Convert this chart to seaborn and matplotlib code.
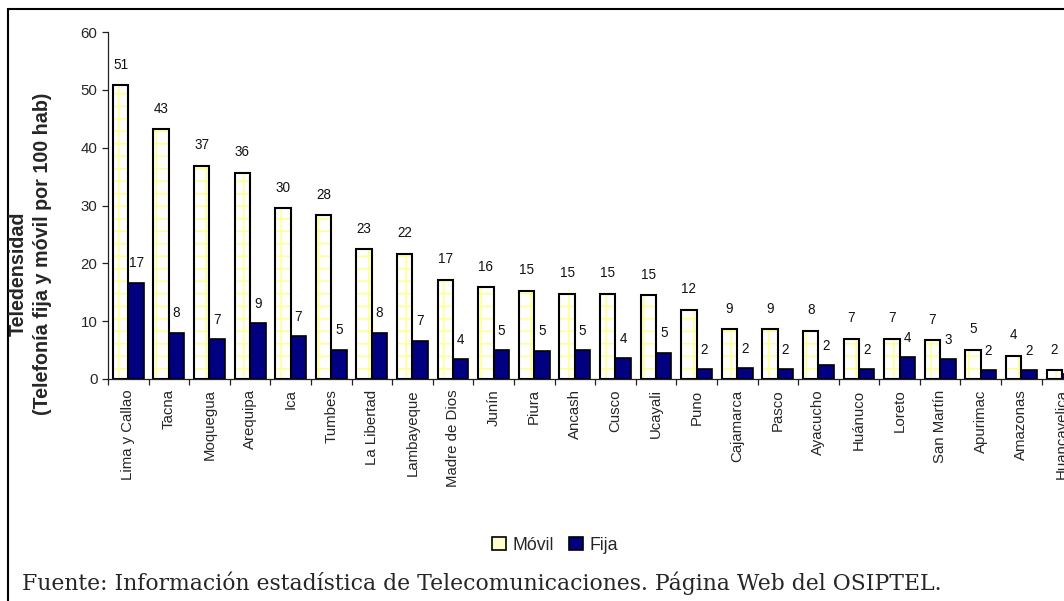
import matplotlib
matplotlib.use("Agg")
import matplotlib.pyplot as plt
import numpy as np
import pandas as pd
import seaborn as sns
from matplotlib.patches import Patch, Rectangle

regiones = ['Lima y Callao', 'Tacna', 'Moquegua', 'Arequipa', 'Ica', 'Tumbes',
            'La Libertad', 'Lambayeque', 'Madre de Dios', 'Junín', 'Piura',
            'Ancash', 'Cusco', 'Ucayali', 'Puno', 'Cajamarca', 'Pasco',
            'Ayacucho', 'Huánuco', 'Loreto', 'San Martín', 'Apurimac',
            'Amazonas', 'Huancavelica']
movil = [50.8, 43.2, 36.9, 35.7, 29.5, 28.3, 22.4, 21.7, 17.2, 15.9, 15.3, 14.7,
         14.7, 14.5, 12.0, 8.6, 8.6, 8.3, 7.0, 7.0, 6.7, 5.1, 4.0, 1.5]
fija = [16.6, 8.0, 6.9, 9.6, 7.4, 5.1, 8.0, 6.6, 3.4, 5.0, 4.9, 5.0, 3.6, 4.5,
        1.7, 1.9, 1.7, 2.4, 1.7, 3.8, 3.4, 1.5, 1.5, 0.9]
movil_labels = ['51', '43', '37', '36', '30', '28', '23', '22', '17', '16', '15', '15',
                '15', '15', '12', '9', '9', '8', '7', '7', '7', '5', '4', '2']
fija_labels = ['17', '8', '7', '9', '7', '5', '8', '7', '4', '5', '5', '5', '4', '5',
               '2', '2', '2', '2', '2', '4', '3', '2', '2', '1']
series = ['Móvil', 'Fija']
y_ticks = [0, 10, 20, 30, 40, 50, 60]

df = pd.DataFrame({
    'region': regiones * 2,
    'valor': movil + fija,
    'tipo': [series[0]] * len(regiones) + [series[1]] * len(regiones),
})

sns.set_style('ticks')
plt.rcParams['font.family'] = ['Liberation Sans', 'DejaVu Sans']
plt.rcParams['hatch.linewidth'] = 0.8

# 150 dpi so the hatch grid comes out close to the reference spacing
fig = plt.figure(figsize=(1064 / 150, 601 / 150), dpi=150)
ax = fig.add_axes([108 / 1064, 222 / 601, 956 / 1064, 347 / 601])

sns.barplot(data=df, x='region', y='valor', hue='tipo',
            palette={'Móvil': 'white', 'Fija': '#000080'}, saturation=1,
            width=0.76, edgecolor='black', linewidth=0.8, legend=False, ax=ax)

movil_bars, fija_bars = ax.containers[0], ax.containers[1]
for p in movil_bars:
    p.set_hatch('++')
    p.set_edgecolor('#FFFF99')
    p.set_linewidth(0)
    ax.add_patch(Rectangle(p.get_xy(), p.get_width(), p.get_height(),
                           fill=False, edgecolor='black', linewidth=1.0, zorder=p.get_zorder() + 0.1))

n = len(regiones)
ax.set_yticks(y_ticks)
ax.set_xticks(range(n))
ax.set_xticklabels(regiones, rotation=90, fontsize=7.2)
ax.set_xticks(np.arange(n + 1) - 0.5, minor=True)
# the original is cut off on the right, half way through the last group
ax.set_xlim(-0.5, 23.05)
ax.set_ylim(0, 60)
ax.tick_params(axis='x', which='major', length=0, pad=5)
ax.tick_params(axis='x', which='minor', length=3, width=0.6, color='#222222')
ax.tick_params(axis='y', labelsize=7.2, length=3, width=0.6, color='#222222', pad=2)
ax.set_xlabel('')
ax.set_ylabel('')
sns.despine(ax=ax)
for s in ['left', 'bottom']:
    ax.spines[s].set_linewidth(0.6)
    ax.spines[s].set_color('#222222')

for cont, labs, pad in [(movil_bars, movil_labels, 6.5), (fija_bars, fija_labels, 6)]:
    for t in ax.bar_label(cont, labels=labs, padding=pad, fontsize=6.5, color='#111111'):
        t.set_annotation_clip(True)

fig.text(18 / 1064, 1 - 274 / 601, 'Teledensidad', rotation=90, ha='center',
         va='center', fontsize=9.5, fontweight='bold')
fig.text(43 / 1064, 1 - 254 / 601, '(Telefonía fija y móvil por 100 hab)', rotation=90,
         ha='center', va='center', fontsize=9.5, fontweight='bold')

handles = [Patch(facecolor='#FFFFCC', edgecolor='black', linewidth=0.8),
           Patch(facecolor='#000080', edgecolor='black', linewidth=0.8)]
fig.legend(handles, series, loc='center', bbox_to_anchor=(555 / 1064, 1 - 545 / 601),
           ncol=2, frameon=False, fontsize=8.5, handlelength=0.8, handleheight=0.8,
           handletextpad=0.4, columnspacing=0.8)

fig.text(22 / 1064, 1 - 583 / 601,
         'Fuente: Información estadística de Telecomunicaciones. Página Web del OSIPTEL.',
         ha='left', va='center', fontsize=10.5, family='DejaVu Serif')

# outer frame, open on the right and bottom like the clipped original
fig.add_artist(Rectangle((8 / 1064, -0.1), 1.2, 1.1 - 9 / 601, transform=fig.transFigure,
                         fill=False, edgecolor='black', linewidth=1.0, clip_on=False))

fig.savefig('out.png', dpi=150, facecolor='white')
